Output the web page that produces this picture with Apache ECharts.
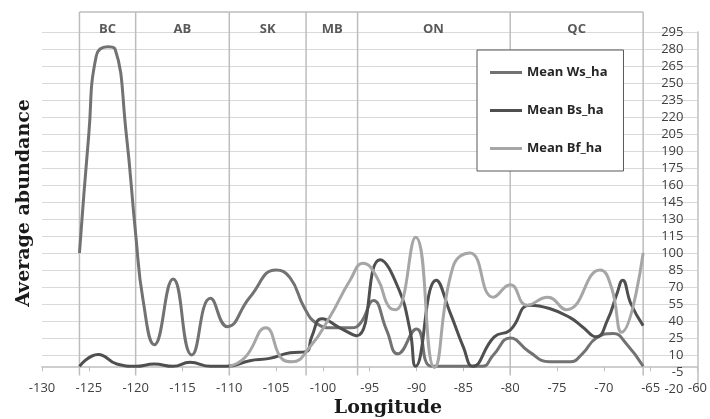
<!DOCTYPE html>
<html>
<head>
<meta charset="utf-8">
<script src="https://cdn.jsdelivr.net/npm/echarts@6/dist/echarts.min.js"></script>
<style>
  html, body { margin: 0; padding: 0; background: #fff; }
  #chart { width: 710px; height: 419px; }
</style>
</head>
<body>
<div id="chart"></div>
<script>
// [longitude, mean abundance]
const wsData = [
  [-126, 100], [-125, 205], [-124.2, 274], [-123, 282], [-122.2, 280], [-121, 205],
  [-120, 117], [-119.2, 58], [-118, 19], [-116, 77], [-114, 10], [-112, 60],
  [-110.2, 35], [-107.8, 61], [-105, 85], [-103.5, 78], [-102, 52], [-100.7, 38],
  [-99, 34], [-97, 34], [-96, 38], [-94.6, 58], [-93.2, 32], [-92, 11], [-90, 33],
  [-88.4, 0], [-86, 0], [-83, 0], [-81.8, 10], [-80, 25], [-78, 13], [-75.8, 4],
  [-73.6, 4], [-72.3, 11], [-70.8, 25], [-69, 29], [-67.6, 20], [-65.8, 0]
];
const bsData = [
  [-126, 0], [-124, 10.5], [-122, 2], [-120, 0], [-118, 2], [-116, 0], [-114.2, 3.5],
  [-112, 0], [-110.3, 0], [-107.8, 5], [-105.7, 7], [-103.5, 12], [-101.8, 13],
  [-101.2, 26], [-100.1, 42], [-98.2, 34], [-96.4, 27], [-93.9, 94], [-92, 70],
  [-90.7, 32], [-90.1, 0], [-87.9, 76], [-86.4, 47], [-85, 17], [-84, 0],
  [-81.7, 26], [-80, 32], [-77.9, 54], [-75.8, 51], [-73.6, 43], [-72.3, 35],
  [-70.8, 26], [-69.6, 41], [-68.6, 64], [-68, 76], [-67.1, 55], [-65.8, 36]
];
const bfData = [
  [-110, 0], [-108.3, 8], [-106.1, 34], [-104.3, 6], [-103.3, 4], [-101.4, 17],
  [-99.3, 43], [-97.1, 76], [-95.7, 91], [-94.2, 78], [-92.9, 52], [-92.2, 50],
  [-90.1, 114], [-88.1, -1], [-86.1, 88], [-84.3, 100], [-81.8, 61], [-80, 72],
  [-78.2, 54], [-76, 61], [-74, 50], [-70.4, 85], [-69.2, 70], [-68.1, 30], [-65.8, 100]
];

const seriesNames = ['Mean Ws_ha', 'Mean Bs_ha', 'Mean Bf_ha'];
const seriesColors = ['#727272', '#4f4f4f', '#a6a6a6'];

const regionNames = ['BC', 'AB', 'SK', 'MB', 'ON', 'QC'];
const regionLabelX = [-123, -115, -105.9, -99, -88.2, -72.9];
const regionBounds = [-126, -120, -110, -101.8, -96.3, -80, -65.8];
const frameTop = 312.6;
const frameBottom = -8;
const labelLevel = 297.5;

const yMin = -20, yMax = 295, yStep = 15;
const yTicks = [];
for (let v = yMin; v <= yMax; v += yStep) yTicks.push(v);

const gridTop = 32, gridBottom = 30;
const plotHeight = 419 - gridTop - gridBottom;
// horizontal axis crosses at 0, not at the bottom of the value range
const xAxisShift = -plotHeight * (0 - yMin) / (yMax - yMin);

const chart = echarts.init(document.getElementById('chart'));

const option = {
  animation: false,
  backgroundColor: '#fff',
  textStyle: { fontFamily: 'Open Sans' },
  grid: { left: 42, right: 12, top: gridTop, bottom: gridBottom },
  legend: {
    data: seriesNames,
    orient: 'vertical',
    left: 477,
    top: 50,
    padding: [14, 16, 14, 13],
    itemGap: 21,
    itemWidth: 32,
    itemHeight: 3,
    icon: 'rect',
    backgroundColor: '#fff',
    borderColor: '#595959',
    borderWidth: 1,
    textStyle: { fontFamily: 'Open Sans', fontWeight: 'bold', fontSize: 13, lineHeight: 17, color: '#262626' }
  },
  xAxis: {
    type: 'value',
    min: -130,
    max: -60,
    interval: 5,
    offset: xAxisShift,
    axisLine: { onZero: false, lineStyle: { color: '#bfbfbf', width: 1.5 } },
    axisTick: { show: true, length: 5, lineStyle: { color: '#bfbfbf' } },
    axisLabel: { margin: 15, fontSize: 13, color: '#404040' },
    splitLine: { show: false }
  },
  yAxis: {
    type: 'value',
    position: 'right',
    min: yMin,
    max: yMax,
    interval: yStep,
    axisLine: { show: true, lineStyle: { color: '#bfbfbf', width: 1.5 } },
    axisTick: { show: false },
    axisLabel: { inside: true, margin: 14, fontSize: 13, color: '#404040' },
    splitLine: {
      show: true,
      lineStyle: { color: yTicks.map(v => v < 0 ? 'rgba(0,0,0,0)' : '#d9d9d9'), width: 1 }
    }
  },
  graphic: [
    {
      type: 'text', x: 388, y: 408,
      style: { text: 'Longitude', x: 0, y: 0, textAlign: 'center', textVerticalAlign: 'middle',
               font: 'bold 19px "DejaVu Serif"', fill: '#1a1a1a' }
    },
    {
      type: 'text', x: 24, y: 203, rotation: Math.PI / 2,
      style: { text: 'Average abundance', x: 0, y: 0, textAlign: 'center', textVerticalAlign: 'middle',
               font: 'bold 19px "DejaVu Serif"', fill: '#1a1a1a' }
    }
  ],
  series: [
    {
      // province frame
      type: 'custom',
      silent: true,
      clip: false,
      data: regionBounds.map(x => [x, frameTop]),
      renderItem: function (params, api) {
        const x = api.value(0);
        const p1 = api.coord([x, frameBottom]);
        const p2 = api.coord([x, frameTop]);
        const children = [{
          type: 'line',
          shape: { x1: p1[0], y1: p1[1], x2: p2[0], y2: p2[1] },
          style: { stroke: '#bdbdbd', lineWidth: 1.5 }
        }];
        if (params.dataIndex === 0) {
          const p3 = api.coord([regionBounds[regionBounds.length - 1], frameTop]);
          children.push({
            type: 'line',
            shape: { x1: p2[0], y1: p2[1], x2: p3[0], y2: p3[1] },
            style: { stroke: '#bdbdbd', lineWidth: 1.5 }
          });
        }
        return { type: 'group', children: children };
      }
    },
    {
      // province names
      type: 'custom',
      silent: true,
      clip: false,
      data: regionLabelX.map(x => [x, labelLevel]),
      renderItem: function (params, api) {
        const p = api.coord([api.value(0), api.value(1)]);
        return {
          type: 'text',
          x: p[0], y: p[1],
          style: {
            text: regionNames[params.dataIndex],
            textAlign: 'center', textVerticalAlign: 'middle',
            font: 'bold 13px "Open Sans"', fill: '#595959'
          }
        };
      }
    },
    {
      name: seriesNames[0], type: 'line', data: wsData, smooth: 0.5,
      symbol: 'none', color: seriesColors[0], lineStyle: { width: 3, color: seriesColors[0] }
    },
    {
      name: seriesNames[1], type: 'line', data: bsData, smooth: 0.5,
      symbol: 'none', color: seriesColors[1], lineStyle: { width: 3, color: seriesColors[1] }
    },
    {
      name: seriesNames[2], type: 'line', data: bfData, smooth: 0.5,
      symbol: 'none', color: seriesColors[2], lineStyle: { width: 3, color: seriesColors[2] }
    }
  ]
};

chart.setOption(option);
</script>
</body>
</html>
